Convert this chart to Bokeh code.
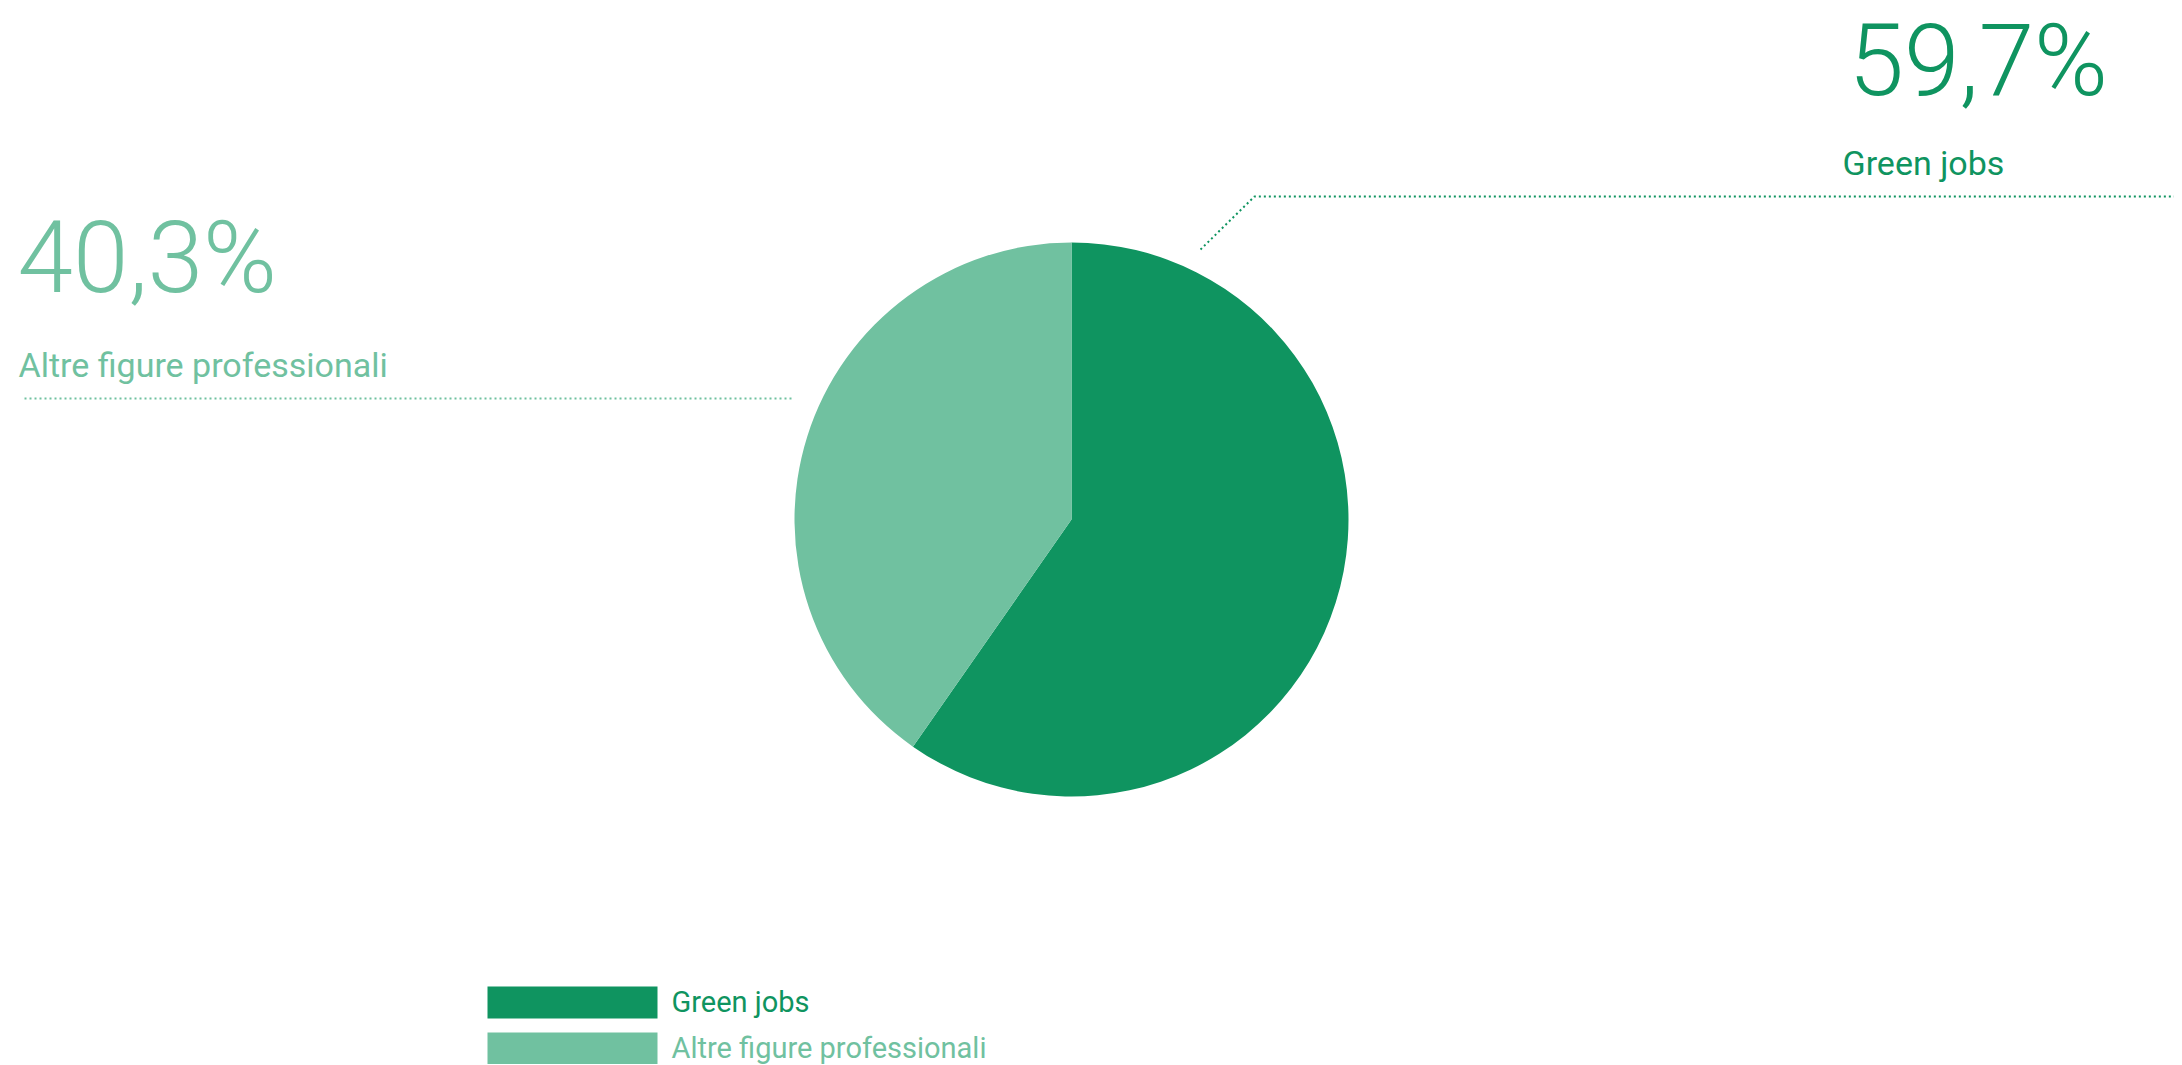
import math
from bokeh.plotting import figure
from bokeh.models import Range1d, ColumnDataSource
from bokeh.core.properties import value
from bokeh.embed import file_html
from bokeh.resources import INLINE

# ---- data ----
categories = ["Green jobs", "Altre figure professionali"]
shares = [59.7, 40.3]
share_labels = ["59,7%", "40,3%"]
colors = ["#0f9460", "#70c1a0"]

W, H = 2174, 1064
p = figure(width=W, height=H, output_backend="svg", toolbar_location=None,
           x_range=Range1d(0, W), y_range=Range1d(1065 - H, 1065),
           min_border=0, outline_line_color=None, background_fill_color="white")
p.axis.visible = False
p.grid.visible = False

def Y(y):
    return 1065 - y

# pie
cx, cy, r = 1071, Y(519), 277
total = sum(shares)
starts, ends = [], []
acc = 0.0
for s in shares:
    a0 = math.pi / 2 - 2 * math.pi * acc / total
    acc += s
    a1 = math.pi / 2 - 2 * math.pi * acc / total
    starts.append(a0)
    ends.append(a1)
src = ColumnDataSource(dict(x=[cx] * len(shares), y=[cy] * len(shares),
                            start=starts, end=ends, color=colors))
p.wedge(x="x", y="y", radius=r, start_angle="start", end_angle="end",
        direction="clock", fill_color="color", line_color=None, source=src)

font_big = value("Roboto Light")
font_lbl = value("Roboto")

# right callout (Green jobs)
p.line([1200, 1254, 2182], [Y(249), Y(196), Y(196)], line_color=colors[0],
       line_width=2, line_dash="2 3")
p.text([1848], [Y(60)], text=[share_labels[0]], text_font=font_big,
       text_font_size="100px", text_color=colors[0], text_baseline="alphabetic")
p.text([1842], [Y(162)], text=[categories[0]], text_font=font_lbl,
       text_font_size="34px", text_color=colors[0], text_baseline="alphabetic")

# left callout (Altre figure professionali)
p.line([24, 793], [Y(398), Y(398)], line_color=colors[1],
       line_width=2, line_dash="2 3")
p.text([17], [Y(257)], text=[share_labels[1]], text_font=font_big,
       text_font_size="100px", text_color=colors[1], text_baseline="alphabetic")
p.text([18], [Y(364)], text=[categories[1]], text_font=font_lbl,
       text_font_size="34px", text_color=colors[1], text_baseline="alphabetic")

# legend
leg_top = [986, 1032]
leg_bot = [1018, 1064]
p.quad(left=[487, 487], right=[657, 657], top=[Y(t) for t in leg_top],
       bottom=[Y(b) for b in leg_bot], fill_color=colors, line_color=None)
p.text([671, 671], [Y(1001), Y(1047)], text=categories, text_font=font_lbl,
       text_font_size="29px", text_color=colors, text_baseline="alphabetic")

open("out.html", "w").write(file_html(p, INLINE))
